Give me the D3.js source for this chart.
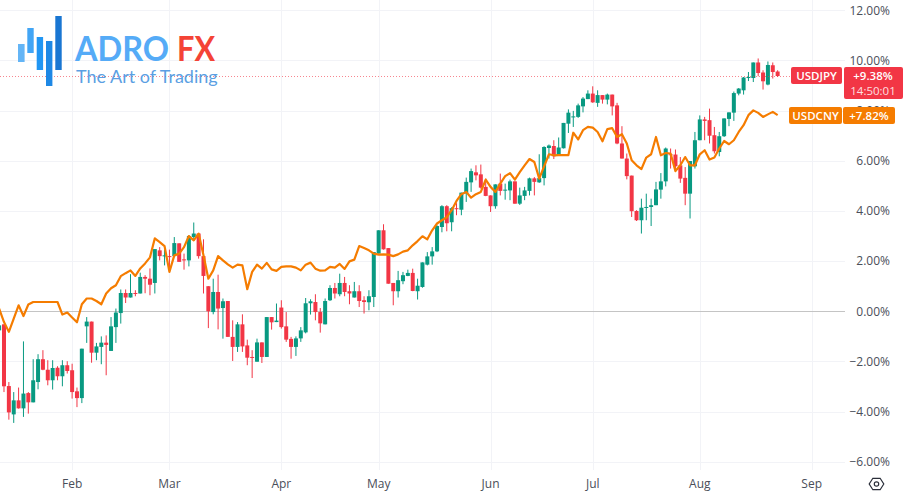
<!DOCTYPE html>
<html><head><meta charset="utf-8">
<style>
html,body{margin:0;padding:0;background:#fff}
svg{display:block}
text{font-family:"Open Sans","Noto Sans",sans-serif}
</style>
<script src="https://cdn.jsdelivr.net/npm/d3@7/dist/d3.min.js"></script>
</head><body><svg id="c" width="904" height="498"></svg>
<script>
const monthNames=["Feb","Mar","Apr","May","Jun","Jul","Aug","Sep"];
const monthBars=[15,35,58,78,101,122,144,167];
const pctTicks=[-6,-4,-2,0,2,4,6,8,10,12];
const opens=[-.76,-.52,-2.98,-4.11,-3.55,-3.87,-3.26,-3.63,-2.82,-1.91,
-2.33,-2.75,-2.25,-2.59,-2.15,-2.35,-3.19,-3.46,-.6,-.41,
-1.65,-1.42,-1.25,-1.58,-.63,-.07,.73,.55,.73,.71,
1.37,1.3,1.13,2.43,2.2,2.2,2.2,2.71,2.07,2.03,
2.96,3.1,2.2,1.0,-.03,.77,.13,.41,-1.02,-1.42,
-.52,-1.36,-1.82,-2.01,-1.24,-1.82,-.23,-.43,.15,-.6,
-1.1,-1.42,-1.08,-.84,.32,.37,-.03,-.52,.44,.93,
.68,1.13,.8,.55,.8,.44,.36,.57,2.3,3.23,
2.52,1.13,.8,1.2,1.41,1.53,.8,.97,1.86,2.19,
2.39,3.36,4.19,3.55,4.11,4.05,4.7,5.14,5.54,5.46,
4.96,4.62,4.19,5.09,4.81,4.82,5.18,4.29,4.6,4.8,
5.3,5.14,5.31,6.51,6.59,6.23,6.5,7.48,7.75,7.75,
8.17,8.46,8.68,8.31,8.62,8.44,8.64,8.21,6.69,6.09,
5.41,4.0,3.63,4.12,4.16,4.23,4.85,5.18,6.26,6.25,
5.82,5.32,4.69,5.78,6.82,7.65,7.62,7.02,6.35,6.98,
7.67,7.92,8.68,8.81,9.3,9.3,9.92,9.52,9.04,9.81,9.56];
const closes=[-.56,-2.99,-4.03,-3.55,-3.87,-3.28,-3.63,-2.75,-1.91,-2.33,
-2.75,-2.26,-2.59,-2.15,-2.38,-3.22,-3.46,-1.49,-.41,-1.65,
-1.4,-1.25,-1.34,-.6,-.05,.73,.55,.73,.71,1.37,
1.3,1.06,2.48,2.2,2.23,2.18,2.72,1.97,2.03,3.0,
3.1,2.2,1.41,0,.77,.11,.4,-1.02,-1.42,-.52,
-1.4,-1.85,-1.85,-1.24,-1.82,-.23,-.44,-.37,-.63,-1.13,
-1.42,-1.08,-.76,.32,.4,-.03,-.48,.41,.93,.71,
1.13,.77,.71,.8,.41,.37,.6,2.36,3.23,2.47,
1.1,.8,1.24,1.44,1.53,.81,1.02,1.95,2.19,2.39,
3.4,4.19,3.51,4.11,4.08,4.73,5.16,5.59,5.42,4.93,
4.6,4.19,5.06,4.8,4.85,5.18,4.29,4.62,4.82,5.3,
5.16,5.31,6.55,6.61,6.18,6.53,7.51,7.92,7.77,8.21,
8.48,8.68,8.33,8.62,8.44,8.64,8.17,6.69,6.09,5.39,
3.99,3.63,4.13,4.16,4.23,4.86,5.18,6.49,6.22,5.78,
5.29,4.69,5.99,6.82,7.65,7.59,7.0,6.38,6.98,7.69,
7.93,8.7,8.88,9.32,9.34,9.92,9.5,9.17,9.82,9.54,9.38];
const highs=[-.3,-.52,-2.82,-3.22,-3.04,-1.2,-3.22,-1.91,-1.71,-1.55,
-1.95,-1.95,-2.19,-1.95,-1.99,-2.09,-3.04,-1.49,-.23,-.41,
-1.26,-1.0,-.96,-.23,.11,.87,.87,1.48,.84,1.54,
1.44,1.71,2.48,2.56,2.46,2.46,2.96,2.71,2.3,3.03,
3.54,3.12,2.87,1.0,1.3,1.46,.51,.41,-.36,-.43,
-.12,-1.13,-1.55,-1.09,-1.24,-.23,-.23,.31,.44,-.03,
-1.02,-1.0,-.63,.53,.48,.68,.13,.51,1.04,1.13,
1.5,1.37,1.04,1.17,1.04,.6,.84,2.36,3.23,3.47,
2.52,1.13,1.61,1.57,1.66,1.7,1.3,1.95,2.36,2.56,
3.43,4.23,4.23,4.15,4.31,4.73,5.33,5.69,5.82,5.85,
5.29,4.62,5.06,5.49,5.09,5.25,5.18,4.93,4.96,5.33,
5.35,6.26,6.58,6.65,6.82,6.93,7.51,8.05,7.99,8.28,
8.54,8.81,8.97,8.81,8.62,8.68,8.64,8.31,7.38,6.29,
5.41,4.03,4.49,4.69,4.49,5.16,5.51,6.53,6.49,6.45,
6.15,5.75,5.99,7.15,7.81,7.75,8.08,7.35,7.15,7.69,
7.93,8.76,8.9,9.34,9.54,9.92,10.08,9.61,9.96,9.92,9.61];
const lows=[-.9,-3.22,-4.32,-4.45,-3.88,-4.21,-4.08,-3.63,-3.11,-2.35,
-2.95,-3.12,-2.75,-2.99,-2.48,-3.48,-3.82,-3.66,-1.26,-2.05,
-1.95,-2.11,-2.55,-1.58,-1.26,-.49,.33,.55,.6,.71,
.72,.64,.71,2.03,1.83,1.57,2.16,1.97,1.66,1.79,
2.83,2.1,.71,-.67,-.12,-.72,-1.09,-1.02,-1.98,-1.62,
-1.62,-2.15,-2.66,-2.01,-2.06,-1.82,-.73,-.43,-.69,-1.22,
-1.89,-1.78,-1.22,-.88,-.13,-.36,-.85,-.52,.41,.51,
.6,.6,.28,.55,.17,-.09,.04,.17,2.3,2.46,
1.1,.24,.55,1.08,1.4,.8,.47,.94,1.83,1.86,
2.36,3.15,3.19,3.19,3.83,3.83,4.36,4.76,5.22,4.89,
4.59,3.96,4.09,4.62,4.45,4.43,4.29,4.24,4.43,4.62,
4.62,5.12,5.02,6.09,6.07,6.22,6.49,7.11,7.35,7.71,
7.93,8.46,8.31,8.15,8.28,8.25,7.81,6.66,6.09,5.26,
3.76,3.6,3.1,3.63,3.4,4.23,4.49,4.98,5.69,5.59,
5.12,4.23,3.7,5.69,6.82,6.82,6.69,6.29,6.18,6.95,
7.38,7.59,8.61,8.64,9.18,9.14,9.37,8.84,9.01,9.28,9.34];
const usdcny=[.11,-.43,-.82,-.29,.24,-.19,.27,.37,.37,.37,
.37,.37,.37,-.13,-.05,-.25,-.44,.28,.51,.51,
.41,.28,.71,.92,1.04,1.4,1.52,1.63,1.41,1.71,
1.91,2.15,2.91,2.76,2.6,1.57,2.23,2.3,2.56,3.0,
2.83,3.1,2.23,1.3,1.63,2.2,2.03,1.87,1.74,1.86,
1.83,.88,1.57,1.86,1.7,1.93,1.67,1.61,1.77,1.79,
1.79,1.74,1.63,1.86,1.94,1.7,1.62,1.63,1.77,1.74,
1.89,1.69,1.99,2.06,2.6,2.52,2.43,2.3,2.26,2.27,
2.26,2.2,2.27,2.38,2.43,2.63,2.8,2.99,2.87,3.23,
3.5,3.63,3.75,4.03,4.4,4.67,4.76,4.53,4.67,4.76,
5.25,4.96,4.76,5.09,5.39,5.51,5.25,5.55,5.82,6.07,
5.95,5.29,5.78,6.26,6.22,6.23,6.23,6.23,7.12,6.85,
7.22,7.35,7.32,7.15,6.78,7.26,7.3,6.95,7.06,6.69,
6.02,5.82,5.67,6.13,6.26,6.95,6.22,6.31,6.29,5.59,
5.82,6.15,5.82,5.82,6.26,6.42,6.05,6.13,6.49,6.79,
6.66,6.82,7.15,7.42,7.82,8.01,7.91,7.75,7.85,7.95,7.82];
const seriesNames=["USDJPY","USDCNY"];
const seriesLast=["+9.38%","+7.82%"];
const countdown="14:50:01";

const GREEN="#089981",RED="#f23645",ORANGE="#f57c00";
const svg=d3.select("#c");
const x=d3.scaleLinear().domain([0,167]).range([-0.87,811.7]);
const y=d3.scaleLinear().domain([-6,12]).range([461.8,10.3]);
const plotR=845,plotB=470;
const crisp=v=>Math.round(v)+.5;

// grid
const g=svg.append("g");
g.selectAll(".v").data(monthBars).join("line")
 .attr("x1",d=>crisp(x(d))).attr("x2",d=>crisp(x(d))).attr("y1",0).attr("y2",plotB)
 .attr("stroke","#f2f3f7");
g.selectAll(".h").data(pctTicks).join("line")
 .attr("x1",0).attr("x2",plotR).attr("y1",d=>crisp(y(d))).attr("y2",d=>crisp(y(d)))
 .attr("stroke",d=>d===0?"#c4c4c4":"#f2f3f7");

// candles
const idx=d3.range(opens.length);
const cg=svg.append("g");
cg.selectAll("line").data(idx).join("line")
 .attr("x1",i=>x(i)).attr("x2",i=>x(i))
 .attr("y1",i=>y(highs[i])).attr("y2",i=>y(lows[i]))
 .attr("stroke",i=>closes[i]>=opens[i]?GREEN:RED).attr("stroke-width",1);
cg.selectAll("rect").data(idx).join("rect")
 .attr("x",i=>x(i)-2).attr("width",4)
 .attr("y",i=>y(Math.max(opens[i],closes[i])))
 .attr("height",i=>Math.max(1,Math.abs(y(opens[i])-y(closes[i]))))
 .attr("fill",i=>closes[i]>=opens[i]?GREEN:RED);

// USDCNY line
svg.append("path").datum(usdcny)
 .attr("fill","none").attr("stroke",ORANGE).attr("stroke-width",2.2).attr("stroke-linejoin","round")
 .attr("d",d3.line().x((d,i)=>x(i)).y(d=>y(d)));

// last price dotted line
const lastJpy=closes[closes.length-1];
svg.append("line").attr("x1",0).attr("x2",791)
 .attr("y1",crisp(y(lastJpy))).attr("y2",crisp(y(lastJpy)))
 .attr("stroke",RED).attr("stroke-opacity",.6).attr("stroke-dasharray","1 2");

// axes
const yAxis=d3.axisRight(y).tickValues(pctTicks).tickSize(0)
 .tickFormat(d=>(d<0?"\u2212":"")+Math.abs(d).toFixed(2)+"%");
const ya=svg.append("g").attr("transform","translate(890,0)").call(yAxis);
ya.select(".domain").remove();
ya.selectAll("text").attr("x",0).attr("text-anchor","end").attr("font-size",12)
 .attr("fill","#4a4e59").style("font-family",'"Open Sans",sans-serif');

const xAxis=d3.axisBottom(x).tickValues(monthBars).tickSize(0).tickFormat((d,i)=>monthNames[i]);
const xa=svg.append("g").attr("transform","translate(-0.5,479.5)").call(xAxis);
xa.select(".domain").remove();
xa.selectAll("text").attr("y",0).attr("dy","0.71em").attr("font-size",12)
 .attr("fill","#4a4e59").style("font-family",'"Open Sans",sans-serif');

// series labels
function tag(bx,by,bw,bh,fill,txt,size){
  svg.append("rect").attr("x",bx).attr("y",by).attr("width",bw).attr("height",bh).attr("rx",2).attr("fill",fill);
  svg.append("text").attr("x",bx+bw/2).attr("y",by+bh/2+4).attr("text-anchor","middle")
   .attr("font-size",size).attr("font-weight",600).attr("fill","#fff").text(txt);
}
tag(791,67,51,17,RED,seriesNames[0],11.5);
svg.append("rect").attr("x",844).attr("y",67).attr("width",59).attr("height",32).attr("rx",2).attr("fill",RED);
svg.append("text").attr("x",873).attr("y",80).attr("text-anchor","middle").attr("font-size",11.5).attr("font-weight",600).attr("fill","#fff").text(seriesLast[0]);
svg.append("text").attr("x",873).attr("y",95).attr("text-anchor","middle").attr("font-size",11.5).attr("fill","#fff").attr("fill-opacity",.85).text(countdown);
tag(789,107,53,17,ORANGE,seriesNames[1],11.5);
tag(843,107,52,17,ORANGE,seriesLast[1],11.5);

// settings icon
const ic=svg.append("g").attr("transform","translate(876.5,484)").attr("fill","none").attr("stroke","#2a2e39");
ic.append("path").attr("stroke-width",1.2).attr("d",d3.line()(d3.range(6).map(k=>{const a=k*Math.PI/3;return [7.3*Math.cos(a),6.6*Math.sin(a)];}))+"Z");
ic.append("circle").attr("r",2.2).attr("stroke-width",1.2);

// logo
const logoBars=[[18,44,6.6,18,"#64b5f6"],[27.3,28,6.4,25,"#42a5f5"],[36.7,37,6.4,33,"#2196f3"],[46,41,6.4,45,"#1e88e5"],[55.3,16,6.4,54,"#1976d2"]];
svg.append("g").selectAll("rect").data(logoBars).join("rect")
 .attr("x",d=>d[0]).attr("y",d=>d[1]).attr("width",d=>d[2]).attr("height",d=>d[3]).attr("fill",d=>d[4]);
svg.append("text").attr("x",75).attr("y",61).attr("font-size",34).attr("font-weight",700).attr("fill","#55abf7")
 .attr("textLength",94).attr("lengthAdjust","spacingAndGlyphs")
 .style("font-family","Lato,sans-serif").text("ADRO");
svg.append("text").attr("x",177).attr("y",61).attr("font-size",34).attr("font-weight",700).attr("fill","#f44336")
 .attr("textLength",38).attr("lengthAdjust","spacingAndGlyphs")
 .style("font-family","Lato,sans-serif").text("FX");
svg.append("text").attr("x",76).attr("y",83).attr("font-size",18).attr("font-weight",400).attr("fill","#5b9fe3")
 .style("font-family","Lato,sans-serif").text("The Art of Trading");
</script></body></html>
